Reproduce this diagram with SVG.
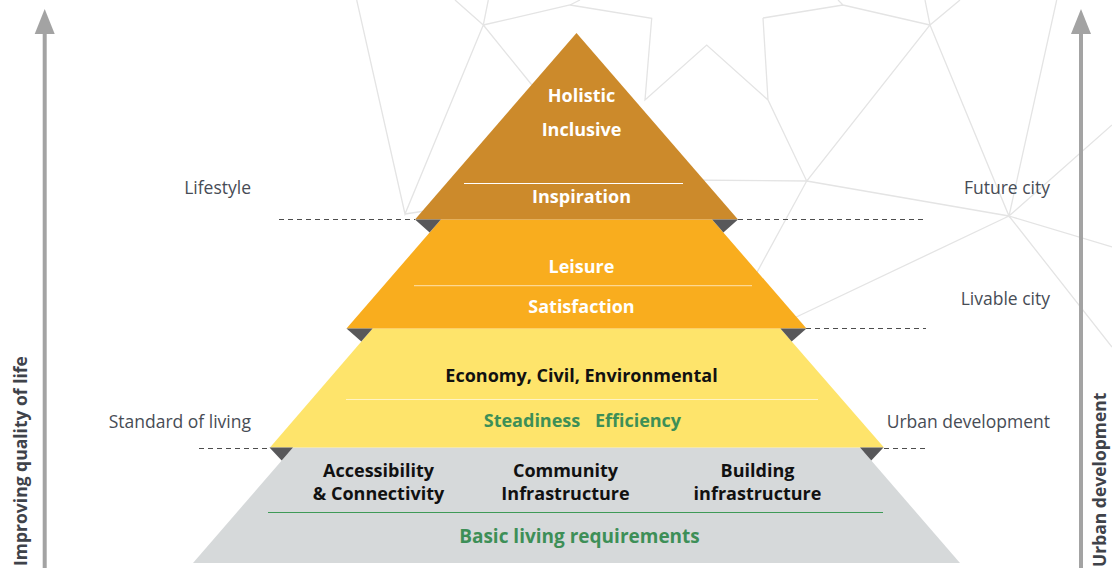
<svg xmlns="http://www.w3.org/2000/svg" width="1112" height="568" viewBox="0 0 1112 568">
<style>
.bg{stroke:#E4E4E4;stroke-width:1.3;fill:none}
.dash{stroke:#4D4D4D;stroke-width:1;stroke-dasharray:5 4;fill:none}
.axis{stroke:#A3A3A3;stroke-width:4;fill:none}
.head{fill:#A3A3A3}
.fold{fill:#58585A}
.lbl{font-family:"Open Sans","Liberation Sans",sans-serif;font-size:17.5px;fill:#474C55;text-anchor:end}
.ax{font-family:"Open Sans","Liberation Sans",sans-serif;font-size:17.5px;font-weight:700;fill:#3F434A}
.t{font-family:"Open Sans","Liberation Sans",sans-serif;font-size:18px;font-weight:700;text-anchor:middle}
.w{fill:#FFFFFF}
.k{fill:#111111}
.g{fill:#3D8F57}
</style>
<g id="background">
<path class="bg" d="M356.7,0L405,214L483.3,25M455,0L483.3,25L488.3,0M483.3,25L570,5L580,0M483.3,25L540,95M405,214L425,211M570,5L651.7,18.3L645,100L706.7,45L768,100L806.7,181L680,180M763,18L843,5L930,25L806.7,181L750,285M843,5L838,0M763,18L768,100M806.7,181L1009,216M925,0L930,25L960,0M930,25L1009,216L1056.7,0M1009,216L1112,125M1009,216L1112,247M1009,216L1112,347M1009,216L790,320"/>
</g>
<g id="guides">
<path class="dash" d="M279,219.5H415M738,219.5H926M806,328.5H926M199,448.5H270M884,448.5H926"/>
</g>
<g id="connectors">
<line class="axis" x1="44.7" y1="568" x2="44.7" y2="32"/>
<polygon class="head" points="44.7,9 54.7,34 34.7,34"/>
<line class="axis" x1="1081" y1="568" x2="1081" y2="32"/>
<polygon class="head" points="1081,9 1091,34 1071,34"/>
</g>
<g id="axis-left">
<text class="ax" transform="translate(26.5,566) rotate(-90)">Improving quality of life</text>
</g>
<g id="axis-right">
<text class="ax" transform="translate(1105.5,567) rotate(-90)">Urban development</text>
</g>
<g id="tier4">
<polygon fill="#D6D9DA" points="293,447.5 860,447.5 960,563 193,563"/>
<line x1="268" y1="512.5" x2="883" y2="512.5" stroke="#3E9A57" stroke-width="1.2"/>
<text class="t k" x="378.5" y="477">Accessibility</text>
<text class="t k" x="378.5" y="500">&amp; Connectivity</text>
<text class="t k" x="565.5" y="477">Community</text>
<text class="t k" x="565.5" y="500">Infrastructure</text>
<text class="t k" x="757.5" y="477">Building</text>
<text class="t k" x="757.5" y="500">infrastructure</text>
<text class="t g" x="579.5" y="543" style="font-size:19px">Basic living requirements</text>
</g>
<g id="tier3">
<polygon fill="#FEE46B" points="372.6,328.5 780.4,328.5 884,447.5 270,447.5"/>
<polygon class="fold" points="269.5,447.5 293,447.5 281.7,460.5"/>
<polygon class="fold" points="883.5,447.5 860,447.5 871.3,460.5"/>
<line x1="346" y1="399.5" x2="818" y2="399.5" stroke="#FFF4C4" stroke-width="1.2"/>
<text class="t k" x="581.5" y="382">Economy, Civil, Environmental</text>
<text class="t g" x="532" y="427">Steadiness</text>
<text class="t g" x="638" y="427">Efficiency</text>
</g>
<g id="tier2">
<polygon fill="#F9AD1E" points="440.9,219.5 712.1,219.5 806.5,328.5 346.5,328.5"/>
<polygon class="fold" points="346.5,328.5 372.6,328.5 361.3,341.5"/>
<polygon class="fold" points="806.5,328.5 780.4,328.5 791.7,341.5"/>
<line x1="414" y1="285.7" x2="752" y2="285.7" stroke="#FDD892" stroke-width="1.2"/>
<text class="t w" x="581.5" y="273">Leisure</text>
<text class="t w" x="581.5" y="313">Satisfaction</text>
</g>
<g id="tier1">
<polygon fill="#CC8A2B" points="576.5,33 738,219.5 415,219.5"/>
<polygon class="fold" points="415,219.5 440.9,219.5 429.6,232.5"/>
<polygon class="fold" points="738,219.5 712.1,219.5 723.4,232.5"/>
<line x1="464" y1="183.5" x2="683" y2="183.5" stroke="#FFFFFF" stroke-width="1.2"/>
<text class="t w" x="581.5" y="102">Holistic</text>
<text class="t w" x="581.5" y="136">Inclusive</text>
<text class="t w" x="581.5" y="203">Inspiration</text>
</g>
<g id="labels">
<text class="lbl" x="251" y="194">Lifestyle</text>
<text class="lbl" x="251" y="428">Standard of living</text>
<text class="lbl" x="1050" y="194">Future city</text>
<text class="lbl" x="1050" y="305">Livable city</text>
<text class="lbl" x="1050" y="428">Urban development</text>
</g>
</svg>
